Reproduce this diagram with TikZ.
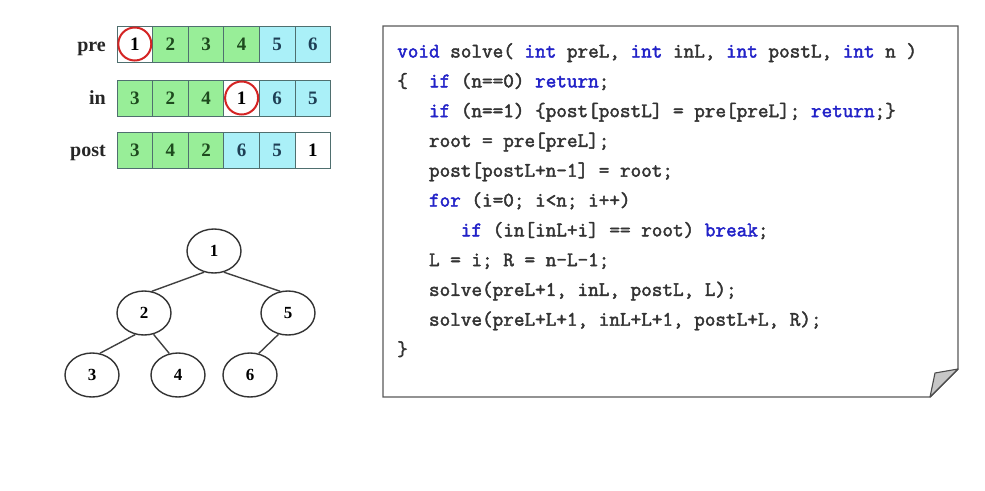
\documentclass[tikz,border=0pt]{standalone}
\usepackage{fontspec}
\setmainfont{Liberation Serif}
\newfontfamily\codefont{Latin Modern Mono}[FakeBold=2.2]
\usetikzlibrary{shapes.geometric}
\definecolor{cellgreen}{HTML}{98EE98}
\definecolor{cellcyan}{HTML}{AAF0F8}
\definecolor{cellline}{HTML}{4F6F6F}
\definecolor{greentext}{HTML}{1E4A1E}
\definecolor{cyantext}{HTML}{1E3F55}
\definecolor{kwblue}{HTML}{2222C8}
\definecolor{codegray}{HTML}{333333}
\definecolor{ringred}{HTML}{D42424}
\newcommand\kwd[1]{\textcolor{kwblue}{#1}}
\newcommand\ind[1]{\hphantom{#1}}
\tikzset{
  cell/.style={draw=cellline, line width=0.8pt, minimum width=35.6, minimum height=36, inner sep=0pt,
    font=\bfseries\fontsize{19}{19}\selectfont},
  rowlabel/.style={anchor=base east, inner sep=0pt, font=\bfseries\fontsize{20}{20}\selectfont, text=black!85},
  ring/.style={draw=ringred, line width=2pt},
  tnode/.style={ellipse, draw=black!80, line width=1.4pt, minimum width=54, minimum height=44, inner sep=0pt,
    font=\bfseries\fontsize{17}{17}\selectfont},
  tedge/.style={draw=black!75, line width=1.4pt},
  codeline/.style={anchor=base west, inner sep=0pt, text=codegray, font=\codefont\fontsize{20.6}{20.6}\selectfont},
  boxline/.style={draw=black!65, line width=1.4pt},
}
\begin{document}
\begin{tikzpicture}[x=1pt,y=-1pt]
\useasboundingbox (0,0) rectangle (985,490);
% array rows
\foreach \v/\c/\t [count=\i] in {1/white/black,2/cellgreen/greentext,3/cellgreen/greentext,4/cellgreen/greentext,5/cellcyan/cyantext,6/cellcyan/cyantext}
  \node[cell, fill=\c, text=\t] (pre\i) at ({117+35.6*(\i-0.5)},44) {\v};
\foreach \v/\c/\t [count=\i] in {3/cellgreen/greentext,2/cellgreen/greentext,4/cellgreen/greentext,1/white/black,6/cellcyan/cyantext,5/cellcyan/cyantext}
  \node[cell, fill=\c, text=\t] (in\i) at ({117+35.6*(\i-0.5)},98) {\v};
\foreach \v/\c/\t [count=\i] in {3/cellgreen/greentext,4/cellgreen/greentext,2/cellgreen/greentext,6/cellcyan/cyantext,5/cellcyan/cyantext,1/white/black}
  \node[cell, fill=\c, text=\t] (post\i) at ({117+35.6*(\i-0.5)},150) {\v};
\node[rowlabel] (lpre) at (106,51) {pre};
\node[rowlabel] (lin) at (106,104) {in};
\node[rowlabel] (lpost) at (106,156) {post};
\draw[ring] (pre1.center) circle (16.5);
\draw[ring] (in4.center) circle (16.5);
% tree
\node[tnode] (t1) at (214,251) {1};
\node[tnode] (t2) at (144,313) {2};
\node[tnode] (t5) at (288,313) {5};
\node[tnode] (t3) at (92,375) {3};
\node[tnode] (t4) at (178,375) {4};
\node[tnode] (t6) at (250,375) {6};
\draw[tedge] (t1.-115) -- (t2.70);
\draw[tedge] (t1.-65) -- (t5.110);
\draw[tedge] (t2.-112) -- (t3.70);
\draw[tedge] (t2.-66) -- (t4.112);
\draw[tedge] (t5.-114) -- (t6.68);
% code box
\draw[boxline, fill=white] (383,26) -- (958,26) -- (958,369) -- (930,397) -- (383,397) -- cycle;
\draw[draw=black!70, line width=1.1pt, fill=black!22, line join=round] (930,397) -- (935,373) -- (958,369) -- cycle;
\node[codeline] (c1) at (397,57.5) {\kwd{void} solve( \kwd{int} preL, \kwd{int} inL, \kwd{int} postL, \kwd{int} n )};
\node[codeline] (c2) at (397,87.3) {\{\ind{00}\kwd{if} (n==0) \kwd{return};};
\node[codeline] (c3) at (397,117.1) {\ind{000}\kwd{if} (n==1) \{post[postL] = pre[preL]; \kwd{return};\}};
\node[codeline] (c4) at (397,146.9) {\ind{000}root = pre[preL];};
\node[codeline] (c5) at (397,176.7) {\ind{000}post[postL+n-1] = root;};
\node[codeline] (c6) at (397,206.5) {\ind{000}\kwd{for} (i=0; i<n; i++)};
\node[codeline] (c7) at (397,236.3) {\ind{000000}\kwd{if} (in[inL+i] == root) \kwd{break};};
\node[codeline] (c8) at (397,266.1) {\ind{000}L = i; R = n-L-1;};
\node[codeline] (c9) at (397,295.9) {\ind{000}solve(preL+1, inL, postL, L);};
\node[codeline] (c10) at (397,325.7) {\ind{000}solve(preL+L+1, inL+L+1, postL+L, R);};
\node[codeline] (c11) at (397,355.5) {\}};
\end{tikzpicture}
\end{document}
